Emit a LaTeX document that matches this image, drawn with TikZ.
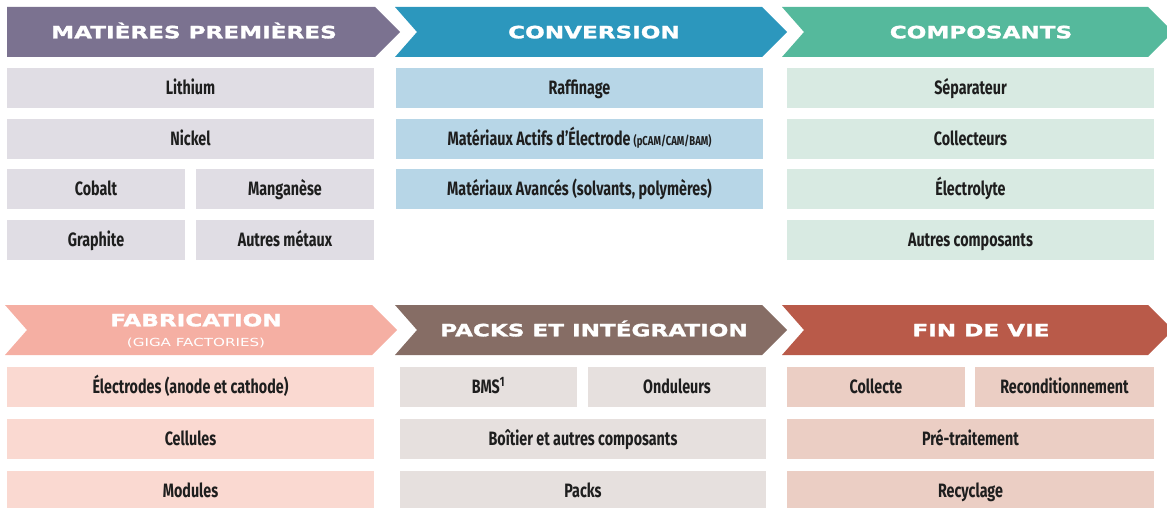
\documentclass[tikz,border=0pt]{standalone}
\usepackage{fontspec}
\setmainfont{Fira Sans}[FakeStretch=0.74]
\newfontfamily\headfont{DejaVu Sans}[FakeStretch=1.36,BoldFeatures={FakeBold=1.6}]

\definecolor{rawD}{HTML}{7B7290}
\definecolor{rawL}{HTML}{E0DDE4}
\definecolor{convD}{HTML}{2C97BD}
\definecolor{convL}{HTML}{B7D6E7}
\definecolor{compD}{HTML}{55B99C}
\definecolor{compL}{HTML}{D8EAE2}
\definecolor{fabD}{HTML}{F5AFA3}
\definecolor{fabL}{HTML}{FAD9D1}
\definecolor{packD}{HTML}{866D65}
\definecolor{packL}{HTML}{E6E0DE}
\definecolor{finD}{HTML}{B95A49}
\definecolor{finL}{HTML}{EBCEC4}
\definecolor{txt}{HTML}{1E1E1E}

\begin{document}
\begin{tikzpicture}[x=0.03cm, y=-0.03cm,
	box/.style={inner sep=0pt, text=txt, text height=11.5pt, text depth=0pt, font=\bfseries\fontsize{16.5}{18}\selectfont},
	head/.style={inner sep=0pt, text=white, text height=10.8pt, text depth=0pt, font=\headfont\bfseries\fontsize{14.5}{16}\selectfont},
	subhead/.style={inner sep=0pt, text=white, font=\headfont\fontsize{9.5}{11}\selectfont}]
				\useasboundingbox (0,0) rectangle (1167,508);
				\clip (0,0) rectangle (1167,508);

				% Headers, upper row
				\fill[rawD] (7,7) -- (375,7) -- (400,32) -- (375,57) -- (7,57) -- cycle;
				\node[head] (matieres) at (194,32) {MATIÈRES PREMIÈRES};
				\fill[convD] (395,7) -- (762,7) -- (787,32) -- (762,57) -- (395,57) -- (417,32) -- cycle;
				\node[head] (conversion) at (594,32) {CONVERSION};
				\fill[compD] (782,7) -- (1148,7) -- (1173,32) -- (1148,57) -- (782,57) -- (804,32) -- cycle;
				\node[head] (composants) at (981,32) {COMPOSANTS};

				% Matieres premieres
				\fill[rawL] (7,68) rectangle (374,108);
				\node[box] (lithium) at (190.5,88) {Lithium};
				\fill[rawL] (7,119) rectangle (374,159);
				\node[box] (nickel) at (190.5,139) {Nickel};
				\fill[rawL] (7,169) rectangle (185,209);
				\node[box] (cobalt) at (96,189) {Cobalt};
				\fill[rawL] (196,169) rectangle (374,209);
				\node[box] (manganese) at (285,189) {Manganèse};
				\fill[rawL] (7,220) rectangle (185,260);
				\node[box] (graphite) at (96,240) {Graphite};
				\fill[rawL] (196,220) rectangle (374,260);
				\node[box] (metaux) at (285,240) {Autres métaux};

				% Conversion
				\fill[convL] (396,68) rectangle (763,108);
				\node[box] (raffinage) at (579.5,88) {Raffinage};
				\fill[convL] (396,119) rectangle (763,159);
				\node[box] (actifs) at (579.5,139) {Matériaux Actifs d'Électrode\,{\fontsize{11}{12}\selectfont(pCAM/CAM/BAM)}};
				\fill[convL] (396,169) rectangle (763,209);
				\node[box] (avances) at (579.5,189) {Matériaux Avancés (solvants, polymères)};

				% Composants
				\fill[compL] (787,68) rectangle (1154,108);
				\node[box] (separateur) at (970.5,88) {Séparateur};
				\fill[compL] (787,119) rectangle (1154,159);
				\node[box] (collecteurs) at (970.5,139) {Collecteurs};
				\fill[compL] (787,169) rectangle (1154,209);
				\node[box] (electrolyte) at (970.5,189) {Électrolyte};
				\fill[compL] (787,220) rectangle (1154,260);
				\node[box] (autrescomp) at (970.5,240) {Autres composants};

				% Headers, lower row
				\fill[fabD] (5,305) -- (372,305) -- (397,330) -- (372,355) -- (5,355) -- (27,330) -- cycle;
				\node[head] (fabrication) at (196,320) {FABRICATION};
				\node[subhead] (giga) at (196,343) {(GIGA FACTORIES)};
				\fill[packD] (395,305) -- (762,305) -- (787,330) -- (762,355) -- (395,355) -- (417,330) -- cycle;
				\node[head] (packs) at (594,330) {PACKS ET INTÉGRATION};
				\fill[finD] (782,305) -- (1148,305) -- (1173,330) -- (1148,355) -- (782,355) -- (804,330) -- cycle;
				\node[head] (finvie) at (981,330) {FIN DE VIE};

				% Fabrication
				\fill[fabL] (7,367) rectangle (374,407);
				\node[box] (electrodes) at (190.5,387) {Électrodes (anode et cathode)};
				\fill[fabL] (7,419) rectangle (374,459);
				\node[box] (cellules) at (190.5,439) {Cellules};
				\fill[fabL] (7,471) rectangle (374,511);
				\node[box] (modules) at (190.5,491) {Modules};

				% Packs et integration
				\fill[packL] (400,367) rectangle (577,407);
				\node[box] (bms) at (488.5,387) {BMS\textsuperscript{1}};
				\fill[packL] (588,367) rectangle (766,407);
				\node[box] (onduleurs) at (677,387) {Onduleurs};
				\fill[packL] (400,419) rectangle (766,459);
				\node[box] (boitier) at (583,439) {Boîtier et autres composants};
				\fill[packL] (400,471) rectangle (766,511);
				\node[box] (packsbox) at (583,491) {Packs};

				% Fin de vie
				\fill[finL] (787,367) rectangle (965,407);
				\node[box] (collecte) at (876,387) {Collecte};
				\fill[finL] (975,367) rectangle (1154,407);
				\node[box] (recond) at (1064.5,387) {Reconditionnement};
				\fill[finL] (787,419) rectangle (1154,459);
				\node[box] (pretraitement) at (970.5,439) {Pré-traitement};
				\fill[finL] (787,471) rectangle (1154,511);
				\node[box] (recyclage) at (970.5,491) {Recyclage};
			\end{tikzpicture}
\end{document}
